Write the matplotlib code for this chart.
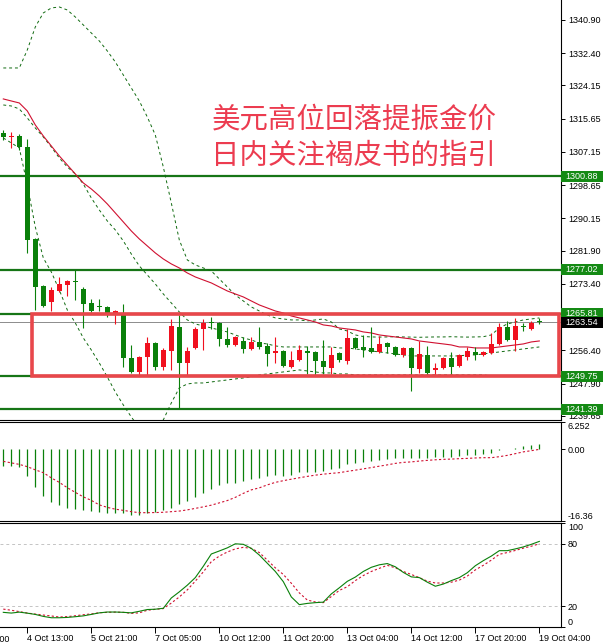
import matplotlib
matplotlib.use('Agg')
import matplotlib.pyplot as plt
from matplotlib.patches import Rectangle
import matplotlib.transforms as mtransforms
import numpy as np

plt.rcParams['font.family'] = ['Liberation Sans', 'DejaVu Sans']

# ---------------- data ----------------
opens = [1312.00, 1310.90, 1311.23, 1308.42, 1284.90, 1272.88, 1268.79, 1271.60, 1273.13, 1273.95,
         1272.11, 1268.53, 1267.55, 1267.51, 1265.46, 1265.72, 1254.47, 1250.89, 1254.72, 1258.30,
         1252.17, 1256.26, 1262.40, 1253.19, 1257.02, 1261.88, 1263.45, 1263.42, 1259.33, 1257.79,
         1258.81, 1256.77, 1258.56, 1257.54, 1255.75, 1256.26, 1252.17, 1253.96, 1256.26, 1256.00,
         1253.70, 1251.91, 1255.75, 1253.70, 1259.58, 1257.28, 1257.02, 1256.00, 1258.30, 1257.28,
         1255.24, 1257.02, 1251.65, 1255.24, 1251.40, 1251.91, 1254.47, 1252.42, 1254.72, 1256.00,
         1255.24, 1255.75, 1258.05, 1262.40, 1259.07, 1262.45, 1261.88, 1263.65]
highs = [1312.77, 1312.26, 1311.74, 1310.47, 1285.20, 1273.13, 1272.62, 1275.18, 1274.41, 1276.97,
         1272.62, 1269.55, 1269.55, 1267.77, 1266.74, 1268.28, 1257.79, 1254.90, 1259.84, 1258.50,
         1257.02, 1264.44, 1265.46, 1257.28, 1262.40, 1264.44, 1264.95, 1263.67, 1262.40, 1260.09,
         1259.84, 1259.84, 1262.40, 1258.30, 1259.84, 1256.51, 1256.26, 1257.79, 1257.54, 1256.26,
         1259.07, 1257.28, 1256.00, 1261.88, 1259.84, 1260.35, 1262.40, 1260.09, 1258.56, 1257.54,
         1257.28, 1257.28, 1258.81, 1257.54, 1253.19, 1254.72, 1256.00, 1255.49, 1257.28, 1257.28,
         1256.26, 1260.86, 1263.42, 1263.91, 1264.69, 1263.42, 1263.91, 1264.69]
lows = [1310.21, 1308.17, 1307.65, 1281.32, 1266.74, 1267.51, 1266.48, 1271.30, 1270.32, 1269.30,
        1262.14, 1266.23, 1266.48, 1264.95, 1263.16, 1252.17, 1250.63, 1250.12, 1250.12, 1251.40,
        1251.40, 1251.40, 1241.68, 1250.12, 1256.77, 1256.51, 1261.88, 1257.54, 1257.28, 1257.60,
        1255.75, 1256.51, 1256.77, 1252.42, 1253.19, 1252.17, 1251.95, 1253.70, 1250.38, 1250.12,
        1250.38, 1250.38, 1253.45, 1252.94, 1256.77, 1254.72, 1255.75, 1255.75, 1255.75, 1254.98,
        1254.72, 1246.03, 1250.63, 1250.12, 1250.12, 1251.65, 1250.12, 1252.17, 1253.96, 1253.96,
        1254.98, 1255.50, 1257.79, 1258.81, 1256.26, 1261.37, 1261.63, 1263.16]
closes = [1310.98, 1311.30, 1308.42, 1284.64, 1272.62, 1267.77, 1271.85, 1273.39, 1274.16, 1273.85,
          1268.28, 1266.48, 1267.45, 1265.46, 1266.48, 1254.47, 1250.89, 1254.72, 1258.30, 1252.17,
          1256.51, 1262.65, 1253.19, 1256.26, 1261.88, 1263.42, 1263.35, 1259.33, 1257.79, 1259.84,
          1256.77, 1258.56, 1257.28, 1255.49, 1256.26, 1252.42, 1253.96, 1256.51, 1255.75, 1253.70,
          1252.17, 1255.24, 1253.96, 1259.58, 1257.02, 1256.51, 1256.00, 1258.05, 1257.28, 1255.24,
          1257.02, 1251.91, 1255.49, 1250.63, 1251.91, 1254.47, 1252.17, 1255.24, 1256.26, 1255.24,
          1256.00, 1258.05, 1262.40, 1259.07, 1262.65, 1262.35, 1263.42, 1263.54]

ma_red = [1320.70, 1320.18, 1319.67, 1317.63, 1314.05, 1311.23, 1308.68, 1306.12, 1303.82, 1301.52,
          1299.22, 1297.68, 1295.89, 1293.85, 1291.55, 1289.25, 1286.94, 1284.90, 1283.11, 1281.32,
          1279.78, 1278.51, 1277.48, 1276.20, 1275.18, 1274.41, 1273.65, 1272.62, 1271.60, 1270.83,
          1270.07, 1269.04, 1268.02, 1267.25, 1266.48, 1265.97, 1265.21, 1264.70, 1264.19, 1263.67,
          1262.91, 1262.65, 1262.14, 1261.88, 1261.63, 1261.12, 1260.86, 1260.35, 1260.09, 1259.84,
          1259.58, 1259.33, 1258.81, 1258.56, 1258.30, 1258.05, 1257.79, 1257.28, 1257.28, 1257.02,
          1257.02, 1257.02, 1257.28, 1257.54, 1257.79, 1258.05, 1258.56, 1258.81]
bb_upper = [1328.62, 1328.62, 1328.62, 1333.23, 1339.11, 1342.69, 1343.96, 1344.22, 1343.45, 1341.66,
            1339.62, 1337.57, 1335.53, 1332.97, 1330.16, 1326.83, 1323.51, 1320.18, 1316.09, 1311.49,
            1303.31, 1294.10, 1284.64, 1279.53, 1278.25, 1277.48, 1276.72, 1274.67, 1272.62, 1270.58,
            1269.04, 1267.51, 1266.48, 1265.46, 1264.70, 1264.44, 1264.19, 1264.19, 1263.93, 1264.19,
            1264.44, 1263.67, 1261.88, 1261.37, 1260.35, 1259.95, 1259.84, 1259.80, 1259.84, 1259.90,
            1259.84, 1259.80, 1259.75, 1259.80, 1259.84, 1259.84, 1259.90, 1259.84, 1259.80, 1259.84,
            1259.90, 1260.35, 1262.14, 1263.16, 1263.67, 1264.19, 1264.44, 1264.70]
bb_mid = [1319.16, 1318.90, 1318.14, 1315.84, 1313.28, 1310.98, 1308.42, 1305.61, 1303.31, 1301.52,
          1298.96, 1295.38, 1292.31, 1289.50, 1287.20, 1284.39, 1281.06, 1278.00, 1275.70, 1273.39,
          1270.83, 1268.53, 1266.23, 1264.19, 1263.16, 1262.65, 1262.14, 1261.63, 1261.12, 1260.35,
          1259.58, 1259.07, 1258.30, 1258.05, 1257.54, 1257.28, 1257.28, 1257.28, 1257.28, 1257.28,
          1257.28, 1257.28, 1257.02, 1257.02, 1256.77, 1256.51, 1256.26, 1256.00, 1255.75, 1255.49,
          1255.24, 1254.98, 1254.98, 1254.98, 1254.98, 1254.98, 1254.98, 1254.98, 1255.24, 1255.24,
          1255.49, 1255.75, 1256.00, 1256.26, 1256.51, 1256.77, 1257.02, 1257.28]
bb_lower = [1310.72, 1309.45, 1308.17, 1298.71, 1287.97, 1280.04, 1276.46, 1271.85, 1266.74, 1263.42,
            1259.58, 1256.51, 1253.19, 1249.61, 1245.77, 1242.45, 1239.38, 1236.57, 1235.55, 1236.57,
            1238.62, 1242.96, 1246.80, 1247.82, 1248.07, 1248.07, 1248.33, 1248.59, 1248.84, 1249.10,
            1249.35, 1249.61, 1250.12, 1250.38, 1250.63, 1250.89, 1251.14, 1251.40, 1251.14, 1250.89,
            1250.63, 1250.63, 1250.38, 1250.38, 1250.12, 1250.12, 1250.12, 1250.12, 1250.12, 1250.12,
            1250.12, 1250.12, 1250.12, 1250.12, 1250.12, 1250.12, 1250.12, 1250.12, 1250.12, 1250.12,
            1250.12, 1249.87, 1249.87, 1249.87, 1249.87, 1249.87, 1249.87, 1249.87]

macd = [-3.81, -3.81, -3.95, -6.10, -8.52, -10.67, -12.04, -12.79, -13.32, -13.54,
        -13.86, -14.09, -14.32, -14.46, -14.62, -14.62, -14.91, -15.01, -14.62, -14.32,
        -13.86, -13.32, -12.56, -11.81, -10.89, -9.89, -9.14, -8.22, -7.77, -7.61,
        -7.24, -6.85, -6.62, -6.10, -5.94, -6.10, -5.87, -5.18, -5.18, -5.09,
        -4.96, -4.57, -4.18, -3.43, -3.04, -2.90, -2.67, -2.51, -2.12, -1.99,
        -1.90, -2.06, -1.99, -1.90, -1.76, -1.67, -1.67, -1.53, -1.37, -1.30,
        -1.14, -0.75, -0.23, 0.05, 0.39, 0.75, 0.91, 1.30]
signal = [-2.74, -3.08, -3.43, -3.95, -4.68, -5.32, -6.51, -7.54, -8.75, -9.82,
          -10.85, -11.65, -12.68, -13.25, -13.66, -13.93, -14.23, -14.46, -14.46, -14.43,
          -14.37, -14.23, -14.09, -13.82, -13.48, -13.13, -12.74, -12.22, -11.69, -10.96,
          -10.05, -9.25, -8.79, -8.11, -7.54, -7.15, -6.81, -6.49, -6.17, -5.89,
          -5.66, -5.48, -5.32, -5.02, -4.75, -4.45, -4.16, -3.84, -3.54, -3.20,
          -2.97, -2.86, -2.67, -2.51, -2.38, -2.28, -2.22, -2.12, -2.06, -1.96,
          -1.90, -1.90, -1.67, -1.37, -0.98, -0.57, -0.30, 0.00]

stoch_k = [14.1, 13.4, 14.3, 13.3, 12.1, 10.2, 8.9, 8.9, 9.2, 9.9,
           10.7, 12.1, 13.6, 14.4, 14.4, 14.1, 13.6, 15.1, 16.8, 17.1,
           18.0, 27.9, 33.8, 40.2, 47.5, 58.4, 70.2, 73.1, 76.1, 80.0,
           79.5, 75.6, 69.2, 61.3, 53.4, 43.6, 28.9, 21.5, 22.7, 23.4,
           23.9, 31.8, 37.7, 43.9, 48.0, 53.4, 57.4, 59.8, 61.0, 57.9,
           52.5, 48.2, 47.5, 43.1, 39.2, 41.3, 44.6, 47.5, 52.2, 58.9,
           63.8, 68.2, 73.4, 73.4, 75.1, 77.0, 79.5, 82.3]
stoch_d = [17.2, 16.1, 14.8, 13.4, 12.4, 11.5, 10.6, 9.6, 10.0, 10.8,
           11.8, 12.6, 13.7, 14.1, 14.3, 14.1, 13.1, 13.6, 16.1, 17.0,
           17.7, 23.0, 28.9, 35.7, 44.1, 53.0, 62.8, 68.2, 72.1, 75.1,
           76.6, 75.6, 71.6, 64.3, 56.9, 50.5, 42.1, 32.8, 25.9, 24.1,
           23.4, 29.3, 35.2, 38.7, 44.6, 49.5, 53.4, 56.4, 59.3, 56.9,
           53.4, 50.5, 47.5, 44.1, 42.3, 42.3, 43.1, 45.1, 49.0, 54.9,
           59.3, 64.3, 69.9, 71.6, 73.6, 75.8, 77.7, 80.0]

levels = [1300.88, 1277.02, 1265.81, 1249.75, 1241.39]
level_labels = ['1300.88', '1277.02', '1265.81', '1249.75', '1241.39']
last_price = 1263.54
last_label = '1263.54'
box_top, box_bottom = 1265.81, 1249.75

price_ticks = [1340.90, 1332.40, 1324.15, 1315.65, 1307.15, 1298.65, 1290.15,
               1281.90, 1273.40, 1256.40, 1247.90, 1239.65]
price_tick_labels = ['1340.90', '1332.40', '1324.15', '1315.65', '1307.15', '1298.65', '1290.15',
                     '1281.90', '1273.40', '1256.40', '1247.90', '1239.65']
macd_ticks = [6.252, 0.0, -16.36]
macd_tick_labels = ['6.252', '0.00', '-16.36']
stoch_ticks = [100, 80, 20, 0]
stoch_tick_labels = ['100', '80', '20', '0']
stoch_levels = [80, 20]

date_bars = [-5, 3, 11, 19, 27, 35, 43, 51, 59, 67]
date_labels = ['3 Oct 05:00', '4 Oct 13:00', '5 Oct 21:00', '7 Oct 05:00', '10 Oct 12:00',
               '11 Oct 20:00', '13 Oct 04:00', '14 Oct 12:00', '17 Oct 20:00', '19 Oct 04:00']

title_lines = ['美元高位回落提振金价', '日内关注褐皮书的指引']

# ---------------- style ----------------
GREEN = '#0a800a'
RED = '#f0101e'
LEVEL_GREEN = '#167516'
TAG_GREEN = '#148a14'
BB_GREEN = '#106a10'
MA_RED = '#d01030'
BOX_RED = '#e8474b'
TXT_RED = '#ec3c50'
FS = 6.5

W, H = 603, 643
fig = plt.figure(figsize=(W / 100, H / 100), dpi=100)
fig.patch.set_facecolor('white')


def px_axes(x0, y0, x1, y1):
    return fig.add_axes([x0 / W, 1 - y1 / H, (x1 - x0) / W, (y1 - y0) / H])


ax = px_axes(0, 0, 561, 420)
ax_m = px_axes(0, 422, 561, 521)
ax_s = px_axes(0, 523, 561, 627)

x = np.arange(len(closes))
XLIM = (-0.4125, 69.71)

for a in (ax, ax_m, ax_s):
    a.set_xlim(*XLIM)
    a.spines['left'].set_visible(False)
    for s in ('right', 'bottom', 'top'):
        a.spines[s].set_linewidth(0.8)
        a.spines[s].set_color('black')
    a.yaxis.tick_right()
    a.tick_params(axis='y', direction='out', length=3, width=0.7, pad=2,
                  labelsize=FS, colors='black')
    a.set_facecolor('white')
ax.spines['top'].set_visible(False)
ax.set_xticks([])
ax_m.set_xticks([])

# ---------------- main panel ----------------
ax.set_ylim(1238.6, 1346.0)
ax.set_yticks(price_ticks)
ax.set_yticklabels(price_tick_labels)

for lv in levels:
    ax.axhline(lv, color=LEVEL_GREEN, lw=1.6, zorder=1)
ax.axhline(last_price, color='#8c8c8c', lw=0.7, zorder=1)

bb_style = dict(color=BB_GREEN, lw=0.7, ls=(0, (3, 3)), zorder=2)
ax.plot(x, bb_upper, **bb_style)
ax.plot(x, bb_mid, **bb_style)
ax.plot(x, bb_lower, **bb_style)
ax.plot(x, ma_red, color=MA_RED, lw=0.8, zorder=2)

for i in range(len(closes)):
    o, h, l, c = opens[i], highs[i], lows[i], closes[i]
    col = RED if c > o else GREEN
    ax.vlines(i, l, h, color=col, lw=0.8, zorder=3)
    ax.bar(i, max(abs(c - o), 0.3), bottom=min(o, c), width=0.62, color=col,
           lw=0, zorder=3)

# red rectangle (from bar ~3.5 to right edge)
ax.add_patch(Rectangle((3.55, box_bottom), 69.46 - 3.55, box_top - box_bottom,
                       fill=False, ec=BOX_RED, lw=2.6, zorder=4))

# right-side price tags
trans = mtransforms.blended_transform_factory(ax.transAxes, ax.transData)
span = 1346.0 - 1238.6
hh = 5.5 * span / 420.0
for lv, lab in zip(levels, level_labels):
    ax.add_patch(Rectangle((1.0, lv - hh), 0.08, 2 * hh, transform=trans, fc=TAG_GREEN,
                           ec='none', clip_on=False, zorder=6))
    ax.annotate(lab, xy=(1.0, lv), xycoords=trans, xytext=(3, 0), textcoords='offset points',
                ha='left', va='center', color='white', fontsize=FS, zorder=7,
                annotation_clip=False)
ax.add_patch(Rectangle((1.0, last_price - hh), 0.08, 2 * hh, transform=trans, fc='black',
                       ec='none', clip_on=False, zorder=6))
ax.annotate(last_label, xy=(1.0, last_price), xycoords=trans, xytext=(3, 0),
            textcoords='offset points', ha='left', va='center', color='white',
            fontsize=FS, zorder=7, annotation_clip=False)

# Chinese annotation
for k, line in enumerate(title_lines):
    fig.text(354 / W, 1 - (120 + 36 * k) / H, line, family=['Noto Sans CJK SC', 'DejaVu Sans'],
             fontsize=20.5, fontweight='light', color=TXT_RED, ha='center', va='center')

# ---------------- MACD panel ----------------
ax_m.set_ylim(-16.36, 6.252)
ax_m.vlines(x, 0, macd, color=GREEN, lw=0.9)
ax_m.plot(x, signal, color=MA_RED, lw=0.8, ls=(0, (2, 2)))
ax_m.set_yticks(macd_ticks)
ax_m.set_yticklabels(macd_tick_labels)
tl = ax_m.get_yticklabels()
tl[0].set_va('top')
tl[-1].set_va('bottom')

# ---------------- Stochastic panel ----------------
ax_s.set_ylim(0, 100)
for lv in stoch_levels:
    ax_s.axhline(lv, color='#c4c4c4', lw=0.7, ls=(0, (3, 3)), zorder=1)
ax_s.plot(x, stoch_k, color=GREEN, lw=0.8, zorder=3)
ax_s.plot(x, stoch_d, color=MA_RED, lw=0.8, ls=(0, (2, 2)), zorder=2)
ax_s.set_yticks(stoch_ticks)
ax_s.set_yticklabels(stoch_tick_labels)
tl = ax_s.get_yticklabels()
tl[0].set_va('top')
tl[-1].set_va('bottom')

ax_s.set_xticks(date_bars[1:])
ax_s.set_xticklabels(date_labels[1:])
ax_s.tick_params(axis='x', direction='out', length=4, width=0.7, pad=1, labelsize=FS)
for lab in ax_s.get_xticklabels():
    lab.set_ha('left')
tx = mtransforms.blended_transform_factory(ax_s.transData, ax_s.transAxes)
ax_s.annotate(date_labels[0], xy=(date_bars[0], 0), xycoords=tx, xytext=(0, -5.5),
              textcoords='offset points', ha='left', va='top', fontsize=FS,
              annotation_clip=False)

fig.savefig('out.png', dpi=100, facecolor='white')
